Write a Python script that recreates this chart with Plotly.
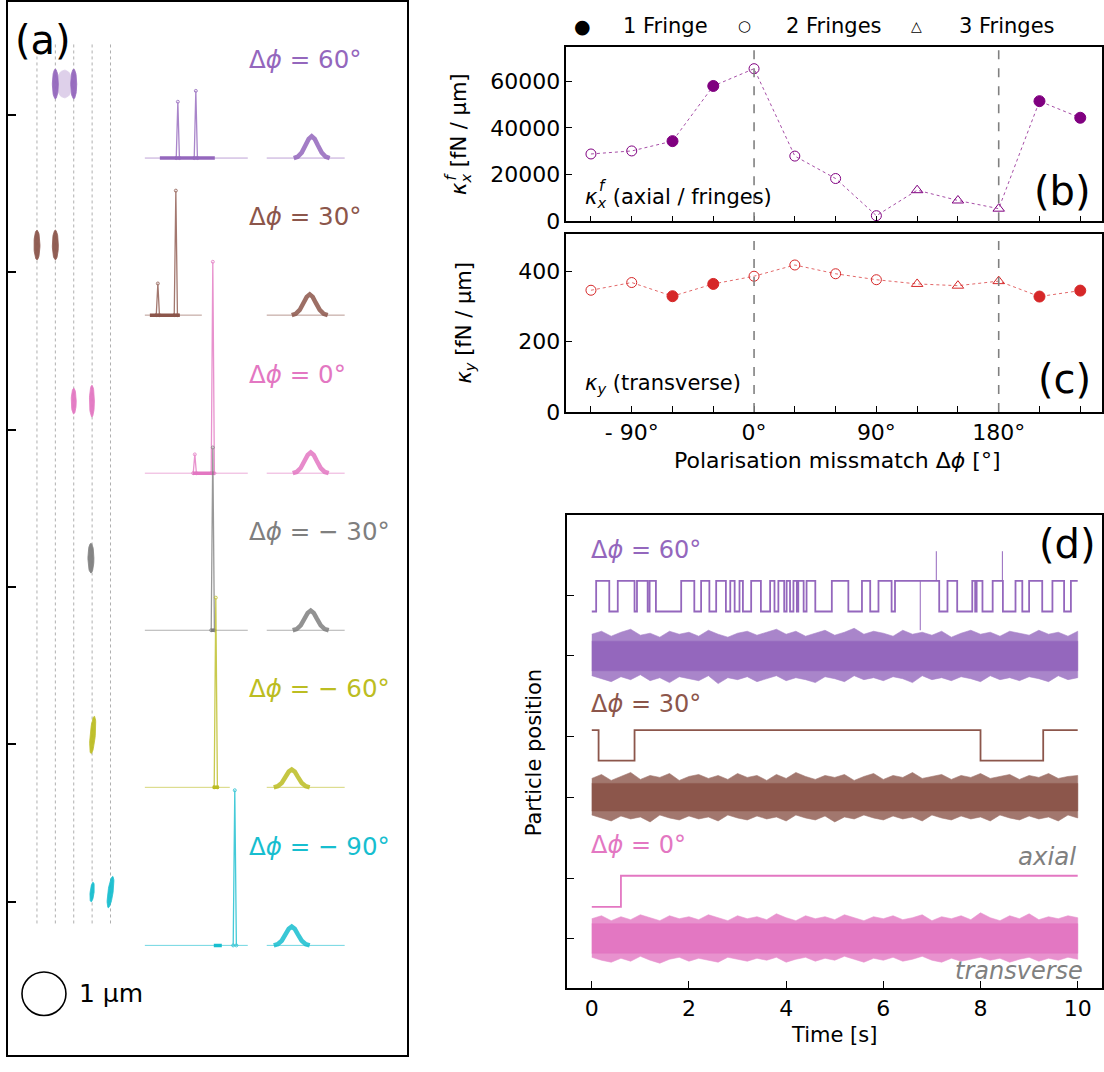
import numpy as np
import plotly.graph_objects as go

W, H = 1104, 1072
FONT = "DejaVu Sans"

# ---------------- panel (b) / (c) data ----------------
dphi = [-120, -90, -60, -30, 0, 30, 60, 90, 120, 150, 180, 210, 240]
kappa_x = [28800, 30100, 34300, 57900, 65300, 27900, 18300, 2400, 13300, 8900, 5400, 51400, 44300]
kappa_y = [347, 369, 330, 365, 387, 419, 394, 377, 365, 360, 373, 329, 346]
n_fringes = [2, 2, 1, 1, 2, 2, 2, 2, 3, 3, 3, 1, 1]
fringe_names = {1: "1 Fringe", 2: "2 Fringes", 3: "3 Fringes"}
fringe_symbols = {1: "circle", 2: "circle-open", 3: "triangle-up-open"}
fringe_glyphs = {1: "●", 2: "○", 3: "△"}
dphi_labelled = [-90, 0, 90, 180]
dphi_labels = ["- 90°", "0°", "90°", "180°"]
kx_ticks = [0, 20000, 40000, 60000]
ky_ticks = [0, 200, 400]
marked_dphi = [0, 180]

# ---------------- panel (a) data (panel pixel units) ----------------
rows_dphi = ["60°", "30°", "0°", "− 30°", "− 60°", "− 90°"]
row_colors = ["#9467bd", "#8c564b", "#e377c2", "#7f7f7f", "#bcbd22", "#17becf"]
row_base = [160, 319, 479, 638, 797, 957]
fringe_lines = [37, 55.4, 73.8, 92.2, 110.6]
fringe_top, fringe_bottom = 45, 935
# scatter clouds: row, x centre, y centre, half height, half width, tilt (deg), opacity
cloud_row = [0, 0, 0, 1, 1, 2, 2, 3, 4, 5, 5]
cloud_x = [55.4, 73.8, 64.6, 37, 55.4, 73.8, 92.0, 91.0, 92.8, 92.2, 110.6]
cloud_y = [85, 85, 85, 248, 248, 406, 406, 565, 744, 903, 903]
cloud_hh = [15, 15, 14, 15, 15, 13, 16, 15, 19, 10, 16]
cloud_hw = [3.0, 3.0, 8.0, 3.0, 3.0, 2.5, 2.5, 3.0, 2.6, 2.0, 2.6]
cloud_tilt = [0, 0, 0, 0, 0, 0, 0, 0, 5, 6, 8]
cloud_alpha = [0.95, 0.95, 0.3, 0.95, 0.95, 0.95, 0.95, 0.95, 0.95, 0.95, 0.95]
# axial histograms (middle column)
hist_start = [145, 145, 145, 145, 145, 145]
hist_end = [248, 202, 248, 248, 230, 248]
hist_dense = [(160, 215), (150, 180), (193, 215), (211, 215), (213, 219), (214, 222)]
hist_peak_x = [[178, 196], [158, 176], [195, 213], [213], [216], [235]]
hist_peak_h = [[57, 68], [32, 126], [19, 214], [185], [192], [157]]
# transverse histograms (right column)
gauss_start, gauss_end = 267, 345
gauss_centre = [312, 310, 311, 311, 292, 292]
gauss_height = [22, 21, 21, 20, 18, 19]
gauss_offsets = [-18, -14, -10, -6, -3, 0, 3, 6, 10, 14, 18]
gauss_shape = [0.0, 0.06, 0.25, 0.6, 0.88, 1.0, 0.88, 0.6, 0.25, 0.06, 0.0]
scale_bar_centre = (44, 1006)
scale_bar_diam = 44

# ---------------- panel (d) data (a.u.) ----------------
t_end = 10.0
tele60_low, tele60_high = 381, 412
tele60_start = 0
tele60_switch = [0.09, 0.36, 0.535, 0.88, 0.93, 1.15, 1.19, 1.32, 1.84, 2.11, 2.25, 2.42,
                 2.56, 2.76, 2.85, 2.94, 3.04, 3.11, 3.28, 3.48, 3.67, 3.76, 3.84, 3.96,
                 4.01, 4.08, 4.15, 4.22, 4.25, 4.36, 4.42, 4.60, 4.94, 5.28, 5.56, 5.73,
                 5.90, 6.17, 6.24, 7.15, 7.32, 7.52, 7.83, 7.89, 7.92, 8.04, 8.25, 8.46,
                 8.72, 8.86, 9.00, 9.27, 9.48, 9.72, 9.86]
tele60_spike_t = [6.76, 7.09, 8.45]
tele60_spike_y = [362, 442, 442]
tele30_low, tele30_high = 230, 261
tele30_start = 1
tele30_switch = [0.14, 0.88, 8.0, 9.29]
tele0_low, tele0_high = 82, 113.5
tele0_start = 0
tele0_switch = [0.6]
noise_centre = [336, 193, 50]
noise_core = [15, 14, 15]
env_t = np.linspace(0, 10, 51)
env_up = [
    [22, 25, 20, 24, 27, 21, 23, 19, 25, 22, 24, 20, 26, 22, 19, 23, 25, 21, 24, 27,
     22, 25, 20, 23, 26, 21, 24, 28, 22, 25, 23, 20, 26, 22, 24, 21, 25, 19, 23, 26,
     22, 24, 20, 25, 23, 21, 26, 22, 24, 20, 25],
    [19, 23, 17, 21, 25, 18, 22, 20, 24, 17, 21, 23, 19, 22, 18, 24, 20, 22, 17, 23,
     19, 25, 21, 18, 22, 20, 23, 17, 21, 24, 18, 22, 20, 25, 19, 21, 23, 18, 22, 20,
     24, 19, 21, 23, 18, 22, 20, 24, 19, 21, 22],
    [20, 23, 18, 22, 19, 24, 21, 18, 23, 20, 22, 19, 24, 21, 18, 23, 20, 22, 19, 25,
     21, 18, 23, 20, 22, 19, 24, 21, 18, 22, 20, 23, 19, 21, 24, 18, 22, 20, 23, 19,
     26, 21, 18, 23, 20, 25, 19, 22, 20, 23, 21],
]
env_dn = [
    [20, 23, 26, 21, 24, 19, 25, 22, 27, 21, 23, 25, 20, 28, 22, 24, 21, 26, 23, 20,
     25, 22, 24, 27, 21, 23, 26, 20, 24, 22, 25, 21, 23, 27, 20, 24, 22, 25, 21, 23,
     26, 20, 24, 22, 25, 21, 23, 26, 20, 24, 22],
    [18, 21, 24, 19, 22, 20, 25, 18, 21, 23, 19, 22, 20, 24, 18, 21, 23, 19, 22, 20,
     24, 18, 21, 23, 19, 25, 20, 22, 18, 21, 23, 19, 22, 20, 24, 18, 21, 23, 19, 22,
     20, 24, 18, 21, 23, 19, 22, 20, 24, 18, 21],
    [19, 22, 24, 20, 23, 18, 22, 25, 21, 19, 23, 20, 22, 24, 19, 21, 23, 20, 22, 19,
     24, 21, 19, 23, 20, 22, 18, 21, 24, 20, 22, 19, 23, 21, 18, 22, 24, 20, 23, 21,
     19, 22, 20, 24, 21, 19, 23, 20, 22, 19, 21],
]
d_colors = ["#9467bd", "#8c564b", "#e377c2"]
d_labels = ["60°", "30°", "0°"]
d_ticks = [397, 336, 254, 193, 111, 50]
time_ticks = [0, 2, 4, 6, 8, 10]


def dom_x(p0, p1):
    return [p0 / W, p1 / W]


def dom_y(p0, p1):
    return [1 - p1 / H, 1 - p0 / H]


def px(x):
    return x / W


def py(y):
    return 1 - y / H


fig = go.Figure()

# ================= panel (a) =================
for xf in fringe_lines:
    fig.add_trace(go.Scatter(x=[xf, xf], y=[fringe_top, fringe_bottom], mode="lines",
                             line=dict(color="#9a9a9a", width=0.8, dash="dot"),
                             xaxis="x", yaxis="y", showlegend=False, hoverinfo="skip"))

theta = np.linspace(0, 2 * np.pi, 48)
for i in range(len(cloud_row)):
    a = np.deg2rad(cloud_tilt[i])
    ux, uy = np.sin(a), -np.cos(a)
    vx, vy = np.cos(a), np.sin(a)
    ex = cloud_x[i] + cloud_hh[i] * np.sin(theta) * ux + cloud_hw[i] * np.cos(theta) * vx
    ey = cloud_y[i] + cloud_hh[i] * np.sin(theta) * uy + cloud_hw[i] * np.cos(theta) * vy
    c = row_colors[cloud_row[i]]
    fig.add_trace(go.Scatter(x=ex, y=ey, mode="lines", fill="toself", fillcolor=c,
                             line=dict(color=c, width=0.8), opacity=cloud_alpha[i],
                             xaxis="x", yaxis="y", showlegend=False, hoverinfo="skip"))

for r in range(6):
    c = row_colors[r]
    b = row_base[r]
    fig.add_trace(go.Scatter(x=[hist_start[r], hist_end[r]], y=[b, b], mode="lines",
                             line=dict(color=c, width=1), opacity=0.6,
                             xaxis="x", yaxis="y", showlegend=False, hoverinfo="skip"))
    d0, d1 = hist_dense[r]
    fig.add_trace(go.Scatter(x=[d0, d1], y=[b, b], mode="lines",
                             line=dict(color=c, width=3.5),
                             xaxis="x", yaxis="y", showlegend=False, hoverinfo="skip"))
    for xp, hp in zip(hist_peak_x[r], hist_peak_h[r]):
        fig.add_trace(go.Scatter(x=[xp - 1.6, xp, xp + 1.6], y=[b, b - hp, b],
                                 mode="lines+markers",
                                 line=dict(color=c, width=1.3),
                                 marker=dict(symbol="circle-open", size=3, color=c),
                                 opacity=0.8, xaxis="x", yaxis="y",
                                 showlegend=False, hoverinfo="skip"))
    fig.add_trace(go.Scatter(x=[gauss_start, gauss_end], y=[b, b], mode="lines",
                             line=dict(color=c, width=1), opacity=0.6,
                             xaxis="x", yaxis="y", showlegend=False, hoverinfo="skip"))
    gx = [gauss_centre[r] + o for o in gauss_offsets]
    gy = [b - gauss_height[r] * s for s in gauss_shape]
    fig.add_trace(go.Scatter(x=gx, y=gy, mode="lines", line=dict(color=c, width=4.5),
                             opacity=0.85, xaxis="x", yaxis="y",
                             showlegend=False, hoverinfo="skip"))

annotations = []
shapes = []
for r in range(6):
    annotations.append(dict(
        x=247, y=row_base[r] - 100, xref="x", yref="y", xanchor="left", yanchor="middle",
        text="Δ<i>ϕ</i> = " + rows_dphi[r], showarrow=False,
        font=dict(family=FONT, size=24.5, color=row_colors[r])))

annotations.append(dict(x=px(13), y=py(40), xref="paper", yref="paper", xanchor="left",
                        yanchor="middle", text="(a)", showarrow=False,
                        font=dict(family=FONT, size=40, color="black")))
cx, cy = scale_bar_centre
shapes.append(dict(type="circle", xref="x", yref="y",
                   x0=cx - scale_bar_diam / 2, x1=cx + scale_bar_diam / 2,
                   y0=cy - scale_bar_diam / 2, y1=cy + scale_bar_diam / 2,
                   line=dict(color="black", width=1.6)))
annotations.append(dict(x=cx + 33, y=cy, xref="x", yref="y", xanchor="left",
                        yanchor="middle", text="1 µm", showarrow=False,
                        font=dict(family=FONT, size=25, color="black")))

# ================= panels (b), (c) =================
fig.add_trace(go.Scatter(x=dphi, y=kappa_x, mode="lines",
                         line=dict(color="purple", width=0.7, dash="dot"),
                         xaxis="x2", yaxis="y2", showlegend=False, hoverinfo="skip"))
fig.add_trace(go.Scatter(x=dphi, y=kappa_y, mode="lines",
                         line=dict(color="#d62728", width=0.7, dash="dot"),
                         xaxis="x3", yaxis="y3", showlegend=False, hoverinfo="skip"))
for nf in (1, 2, 3):
    xs = [d for d, n in zip(dphi, n_fringes) if n == nf]
    kx = [k for k, n in zip(kappa_x, n_fringes) if n == nf]
    ky = [k for k, n in zip(kappa_y, n_fringes) if n == nf]
    size = 11 if nf == 1 else 10
    fig.add_trace(go.Scatter(x=xs, y=kx, mode="markers", name=fringe_names[nf],
                             marker=dict(symbol=fringe_symbols[nf], size=size, color="purple",
                                         line=dict(width=1, color="purple")),
                             xaxis="x2", yaxis="y2", showlegend=False))
    fig.add_trace(go.Scatter(x=xs, y=ky, mode="markers", name=fringe_names[nf],
                             marker=dict(symbol=fringe_symbols[nf], size=size, color="#d62728",
                                         line=dict(width=1, color="#d62728")),
                             xaxis="x3", yaxis="y3", showlegend=False))

# legend drawn as text (black keys)
legend_glyph_x = [583, 745, 917]
legend_text_x = [622, 785, 958]
legend_glyph_size = [19, 15, 14]
for i, nf in enumerate((1, 2, 3)):
    annotations.append(dict(x=px(legend_glyph_x[i]), y=py(26), xref="paper", yref="paper",
                            xanchor="center", yanchor="middle", text=fringe_glyphs[nf],
                            showarrow=False,
                            font=dict(family=FONT, size=legend_glyph_size[i], color="black")))
    annotations.append(dict(x=px(legend_text_x[i]), y=py(26), xref="paper", yref="paper",
                            xanchor="left", yanchor="middle", text=fringe_names[nf],
                            showarrow=False, font=dict(family=FONT, size=21, color="black")))

for xv in marked_dphi:
    for ax in ("2", "3"):
        shapes.append(dict(type="line", xref="x" + ax, yref="y" + ax + " domain",
                           x0=xv, x1=xv, y0=0, y1=1,
                           line=dict(color="#808080", width=1.6, dash="dash")))

annotations += [
    dict(x=px(584), y=py(200), xref="paper", yref="paper", xanchor="left", yanchor="middle",
         text="<i>κ</i><sub><i>x</i></sub> (axial / fringes)",
         showarrow=False, font=dict(family=FONT, size=21, color="black")),
    dict(x=px(598), y=py(188), xref="paper", yref="paper", xanchor="left", yanchor="middle",
         text="<i>f</i>", showarrow=False, font=dict(family=FONT, size=15, color="black")),
    dict(x=px(1094), y=py(193), xref="paper", yref="paper", xanchor="right", yanchor="middle",
         text="(b)", showarrow=False, font=dict(family=FONT, size=40, color="black")),
    dict(x=px(584), y=py(389), xref="paper", yref="paper", xanchor="left", yanchor="middle",
         text="<i>κ</i><sub><i>y</i></sub> (transverse)",
         showarrow=False, font=dict(family=FONT, size=21, color="black")),
    dict(x=px(1094), y=py(384), xref="paper", yref="paper", xanchor="right", yanchor="middle",
         text="(c)", showarrow=False, font=dict(family=FONT, size=40, color="black")),
    dict(x=px(461), y=py(136), xref="paper", yref="paper", xanchor="center", yanchor="middle",
         text="<i>κ</i><sub><i>x</i></sub> [fN / µm]", textangle=-90,
         showarrow=False, font=dict(family=FONT, size=21, color="black")),
    dict(x=px(451), y=py(179), xref="paper", yref="paper", xanchor="center", yanchor="middle",
         text="<i>f</i>", textangle=-90,
         showarrow=False, font=dict(family=FONT, size=15, color="black")),
    dict(x=px(465), y=py(327), xref="paper", yref="paper", xanchor="center", yanchor="middle",
         text="<i>κ</i><sub><i>y</i></sub> [fN / µm]", textangle=-90,
         showarrow=False, font=dict(family=FONT, size=21, color="black")),
    dict(x=px(838), y=py(466), xref="paper", yref="paper", xanchor="center", yanchor="middle",
         text="Polarisation missmatch Δ<i>ϕ</i> [°]",
         showarrow=False, font=dict(family=FONT, size=22, color="black")),
]

# ================= panel (d) =================
def step_xy(start, switches, low, high):
    lv = [low, high]
    xs, ys = [0.0], [lv[start]]
    s = start
    for t in switches:
        xs += [t, t]
        ys += [lv[s], lv[1 - s]]
        s = 1 - s
    xs.append(t_end)
    ys.append(lv[s])
    return xs, ys


tele = [
    (tele60_start, tele60_switch, tele60_low, tele60_high),
    (tele30_start, tele30_switch, tele30_low, tele30_high),
    (tele0_start, tele0_switch, tele0_low, tele0_high),
]
for k in range(3):
    c = d_colors[k]
    up = [noise_centre[k] + u for u in env_up[k]]
    dn = [noise_centre[k] - d for d in env_dn[k]]
    fig.add_trace(go.Scatter(x=list(env_t) + list(env_t[::-1]), y=up + dn[::-1],
                             mode="lines", fill="toself", fillcolor=c,
                             line=dict(color=c, width=0.6), opacity=0.8,
                             xaxis="x4", yaxis="y4", showlegend=False, hoverinfo="skip"))
    fig.add_trace(go.Scatter(x=[0, t_end, t_end, 0],
                             y=[noise_centre[k] + noise_core[k]] * 2 + [noise_centre[k] - noise_core[k]] * 2,
                             mode="lines", fill="toself", fillcolor=c,
                             line=dict(color=c, width=0.5),
                             xaxis="x4", yaxis="y4", showlegend=False, hoverinfo="skip"))
    xs, ys = step_xy(*tele[k])
    fig.add_trace(go.Scatter(x=xs, y=ys, mode="lines", line=dict(color=c, width=1.8),
                             xaxis="x4", yaxis="y4", showlegend=False, hoverinfo="skip"))

sx, sy = [], []
for t, yv in zip(tele60_spike_t, tele60_spike_y):
    sx += [t, t, None]
    sy += [tele60_high, yv, None]
fig.add_trace(go.Scatter(x=sx, y=sy, mode="lines", line=dict(color=d_colors[0], width=1),
                         xaxis="x4", yaxis="y4", showlegend=False, hoverinfo="skip"))

label_y = [557, 713, 855]
for k in range(3):
    annotations.append(dict(x=px(590), y=py(label_y[k]), xref="paper", yref="paper",
                            xanchor="left", yanchor="middle",
                            text="Δ<i>ϕ</i> = " + d_labels[k], showarrow=False,
                            font=dict(family=FONT, size=24, color=d_colors[k])))
annotations += [
    dict(x=px(1099), y=py(551), xref="paper", yref="paper", xanchor="right", yanchor="middle",
         text="(d)", showarrow=False, font=dict(family=FONT, size=40, color="black")),
    dict(x=px(1079), y=py(867), xref="paper", yref="paper", xanchor="right", yanchor="middle",
         text="<i>axial</i>", showarrow=False, font=dict(family=FONT, size=24.5, color="#808080")),
    dict(x=px(1086), y=py(983), xref="paper", yref="paper", xanchor="right", yanchor="middle",
         text="<i>transverse</i>", showarrow=False, font=dict(family=FONT, size=24, color="#808080")),
    dict(x=px(534), y=py(762), xref="paper", yref="paper", xanchor="center", yanchor="middle",
         text="Particle position", textangle=-90,
         showarrow=False, font=dict(family=FONT, size=21, color="black")),
    dict(x=px(835), y=py(1048), xref="paper", yref="paper", xanchor="center", yanchor="middle",
         text="Time [s]", showarrow=False, font=dict(family=FONT, size=21, color="black")),
]

frame = dict(showline=True, linecolor="black", linewidth=1.5, mirror=True,
             showgrid=False, zeroline=False)
tickfont = dict(family=FONT, size=22, color="black")

fig.update_layout(
    width=W, height=H, margin=dict(l=0, r=0, t=0, b=0), autosize=False,
    paper_bgcolor="white", plot_bgcolor="white",
    font=dict(family=FONT, size=18, color="black"),
    showlegend=False,
    xaxis=dict(domain=dom_x(8, 407), range=[8, 407], anchor="y", ticks="",
               showticklabels=False, **frame),
    yaxis=dict(domain=dom_y(2, 1068), range=[1068, 2], anchor="x",
               tickvals=[b - 44 for b in row_base], ticks="inside", ticklen=8, tickwidth=1.5,
               tickcolor="black", showticklabels=False, **frame),
    xaxis2=dict(domain=dom_x(567, 1103), range=[-138, 256], anchor="y2",
                tickvals=dphi, ticks="inside", ticklen=6, tickwidth=1.3, tickcolor="black",
                showticklabels=False, **frame),
    yaxis2=dict(domain=dom_y(48, 224), range=[0, 74400], anchor="x2",
                tickvals=kx_ticks, ticktext=[str(v) for v in kx_ticks],
                ticks="inside", ticklen=6, tickwidth=1.3, tickcolor="black",
                tickfont=tickfont, **frame),
    xaxis3=dict(domain=dom_x(567, 1103), range=[-138, 256], anchor="y3",
                tickvals=dphi_labelled, ticktext=dphi_labels, ticks="inside", ticklen=6,
                tickwidth=1.3, tickcolor="black", tickfont=tickfont,
                minor=dict(tickvals=dphi, ticks="inside", ticklen=6, tickwidth=1.3,
                           tickcolor="black"),
                **frame),
    yaxis3=dict(domain=dom_y(237, 417), range=[0, 507], anchor="x3",
                tickvals=ky_ticks, ticktext=[str(v) for v in ky_ticks],
                ticks="inside", ticklen=6, tickwidth=1.3, tickcolor="black",
                tickfont=tickfont, **frame),
    xaxis4=dict(domain=dom_x(568, 1103), range=[-0.5, 10.5], anchor="y4",
                tickvals=time_ticks, ticktext=[str(v) for v in time_ticks],
                ticks="inside", ticklen=7, tickwidth=1.3, tickcolor="black",
                tickfont=tickfont, **frame),
    yaxis4=dict(domain=dom_y(521, 1000), range=[0, 479], anchor="x4",
                tickvals=d_ticks, ticks="inside", ticklen=7, tickwidth=1.3, tickcolor="black",
                showticklabels=False, **frame),
    annotations=annotations,
    shapes=shapes,
)

page_js = (
    "var css='margin:0;padding:0;overflow:hidden;height:1072px;';"
    "document.documentElement.style.cssText=css;document.body.style.cssText=css;"
)
fig.write_html("out.html",
               config={"displayModeBar": False, "responsive": False},
               post_script=page_js)
